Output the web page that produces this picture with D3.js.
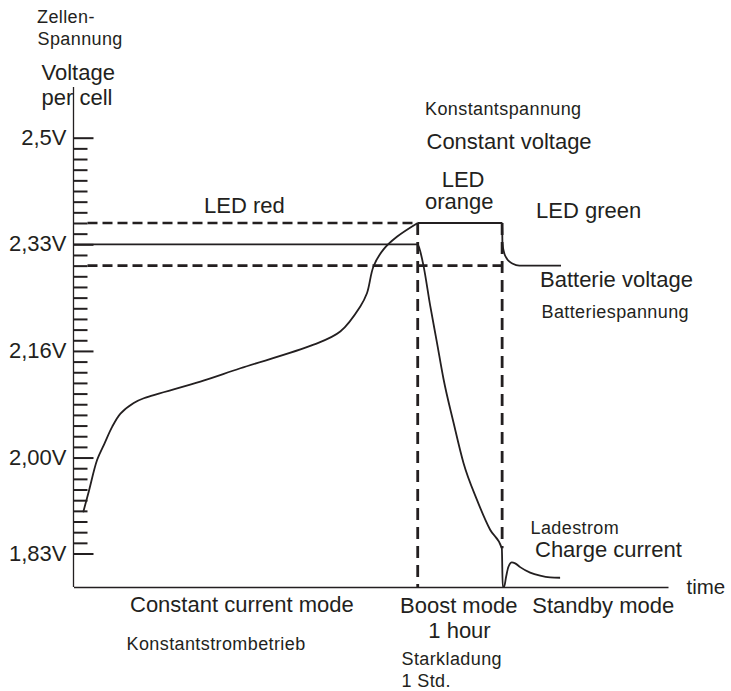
<!DOCTYPE html>
<html>
<head>
<meta charset="utf-8">
<script src="https://cdn.jsdelivr.net/npm/d3@7"></script>
<style>
  html, body { margin: 0; padding: 0; background: #fff; }
  svg { display: block; }
  text { font-family: "Liberation Sans", Arial, Helvetica, sans-serif; fill: #231f20; }
  .small { font-size: 18px; letter-spacing: 0.4px; }
  .big { font-size: 22px; }
</style>
</head>
<body>
<svg id="chart" width="731" height="691"></svg>
<script>
// ---------- data ----------
// y axis: tick index (minor ticks) and labelled voltages
const tickCount = 40;                       // minor tick positions 0..39
const tickIndex = [0, 9, 19, 29, 39];       // labelled tick positions
const tickVolts = [1.83, 2.00, 2.16, 2.33, 2.50];
const tickLabels = ["1,83V", "2,00V", "2,16V", "2,33V", "2,5V"];

// phase boundaries on the time axis (arbitrary units 0..100)
const boostStart = 57.9;
const standbyStart = 72.1;

// reference voltage levels (dashed)
const vHigh = 2.364;
const vLow = 2.296;

// battery voltage: rising part (constant current phase)
const riseT = [1.63, 2.57, 3.98, 5.21, 6.50, 7.90, 10.13, 11.82, 21.34, 28.07, 40.39, 44.87, 48.24, 49.36, 50.47, 52.15, 54.40, 57.9];
const riseV = [1.903, 1.940, 1.996, 2.021, 2.046, 2.066, 2.082, 2.089, 2.114, 2.134, 2.170, 2.191, 2.231, 2.252, 2.295, 2.322, 2.342, 2.364];
// battery voltage: boost and standby part
const holdT = [57.9, 72.1, 72.15, 72.4, 72.9, 73.9, 75.0, 82.0];
const holdV = [2.364, 2.364, 2.332, 2.318, 2.307, 2.299, 2.296, 2.296];

// charge current curve (relative, 1 = constant current level)
const currT = [0, 57.9, 58.2, 58.87, 60.0, 61.13, 62.24, 63.92, 65.6, 67.85, 70.08, 72.05, 72.2, 72.44, 72.77, 73.16, 73.73, 74.29, 75.13, 76.81, 78.49, 80.17, 81.85];
const currI = [1, 1, 0.987, 0.938, 0.821, 0.714, 0.607, 0.480, 0.362, 0.255, 0.167, 0.113, 0.0, 0.001, 0.030, 0.059, 0.072, 0.069, 0.058, 0.042, 0.033, 0.028, 0.027];

// ---------- layout ----------
const svg = d3.select("#chart");
const ink = "#231f20";
const x0 = 73.5, x1 = 668, yBase = 587, yTop = 87;
const minorLen = 14, majorLen = 20;

const x = d3.scaleLinear().domain([0, 100]).range([x0, x1]);
const yTick = d3.scaleLinear().domain([0, tickCount - 1]).range([553.5, 137.7]);
const y = d3.scaleLinear().domain(tickVolts).range(tickIndex.map(yTick));
const yCur = d3.scaleLinear().domain([0, 1]).range([yBase, y(2.33)]);

// x axis line
svg.append("g").attr("transform", `translate(0,${yBase})`)
  .call(d3.axisBottom(x).tickValues([]).tickSizeOuter(0))
  .select(".domain").attr("stroke", ink).attr("stroke-width", 1.3);

// y axis line
svg.append("line").attr("x1", x0).attr("x2", x0).attr("y1", yTop).attr("y2", yBase)
  .attr("stroke", ink).attr("stroke-width", 1.3);

// y ticks
const labelOf = i => { const k = tickIndex.indexOf(i); return k >= 0 ? tickLabels[k] : ""; };
const gy = svg.append("g").attr("transform", `translate(${x0},0)`)
  .call(d3.axisLeft(yTick).tickValues(d3.range(tickCount)).tickSizeInner(-minorLen).tickSizeOuter(0).tickPadding(7).tickFormat(labelOf));
gy.select(".domain").remove();
gy.selectAll(".tick line").attr("stroke", ink).attr("stroke-width", 2)
  .attr("x2", d => tickIndex.includes(d) ? majorLen : minorLen);
gy.selectAll(".tick text").attr("x", -7).attr("dy", "0.3em")
  .style("font-size", "22px").style("font-family", '"Liberation Sans", Arial, sans-serif').attr("fill", ink);

// dashed reference lines
const dashH = "10,5", dashV = "12,7";
svg.append("line").attr("x1", x0 + minorLen).attr("x2", x(boostStart)).attr("y1", y(vHigh)).attr("y2", y(vHigh))
  .attr("stroke", ink).attr("stroke-width", 2.6).attr("stroke-dasharray", dashH);
svg.append("line").attr("x1", x0 + minorLen).attr("x2", x(standbyStart)).attr("y1", y(vLow)).attr("y2", y(vLow))
  .attr("stroke", ink).attr("stroke-width", 2.6).attr("stroke-dasharray", dashH);
svg.append("line").attr("x1", x(boostStart)).attr("x2", x(boostStart)).attr("y1", y(vHigh)).attr("y2", yBase)
  .attr("stroke", ink).attr("stroke-width", 2.8).attr("stroke-dasharray", dashV);
svg.append("line").attr("x1", x(standbyStart)).attr("x2", x(standbyStart)).attr("y1", y(vHigh)).attr("y2", yCur(0.113))
  .attr("stroke", ink).attr("stroke-width", 2.8).attr("stroke-dasharray", dashV);

// curves
const riseData = riseT.map((t, i) => [t, riseV[i]]);
const holdData = holdT.map((t, i) => [t, holdV[i]]);
const currData = currT.map((t, i) => [t, currI[i]]);
svg.append("path").datum(riseData)
  .attr("d", d3.line().x(d => x(d[0])).y(d => y(d[1])).curve(d3.curveCatmullRom.alpha(0.5)))
  .attr("fill", "none").attr("stroke", ink).attr("stroke-width", 1.8);
svg.append("path").datum(holdData)
  .attr("d", d3.line().x(d => x(d[0])).y(d => y(d[1])).curve(d3.curveMonotoneX))
  .attr("fill", "none").attr("stroke", ink).attr("stroke-width", 1.8);
svg.append("path").datum(currData)
  .attr("d", d3.line().x(d => x(d[0])).y(d => yCur(d[1])).curve(d3.curveMonotoneX))
  .attr("fill", "none").attr("stroke", ink).attr("stroke-width", 1.8);

// ---------- texts ----------
const smallTexts = [
  ["Zellen-", 37, 22.5], ["Spannung", 37.5, 44.5], ["Konstantspannung", 425, 115],
  ["Batteriespannung", 541.5, 318.3], ["Ladestrom", 530.5, 533.5],
  ["Konstantstrombetrieb", 126.5, 650], ["Starkladung", 401.5, 665], ["1 Std.", 401.5, 686.7]
];
const bigTexts = [
  ["Voltage", 41.5, 80], ["per cell", 41.5, 105], ["Constant voltage", 426.5, 149.3],
  ["LED red", 204, 213.3], ["LED", 441.7, 186.7], ["orange", 425, 209.3], ["LED green", 536, 218],
  ["Batterie voltage", 540, 287.3], ["Charge current", 535, 557],
  ["Constant current mode", 130, 612.3], ["Boost mode", 400, 613.3], ["Standby mode", 532.3, 613],
  ["1 hour", 428.3, 638.3]
];
svg.selectAll("text.small").data(smallTexts).join("text").attr("class", "small")
  .attr("x", d => d[1]).attr("y", d => d[2]).text(d => d[0]);
svg.selectAll("text.big").data(bigTexts).join("text").attr("class", "big")
  .attr("x", d => d[1]).attr("y", d => d[2]).text(d => d[0]);
svg.append("text").attr("x", 686.5).attr("y", 594).style("font-size", "20.5px").text("time");
</script>
</body>
</html>
